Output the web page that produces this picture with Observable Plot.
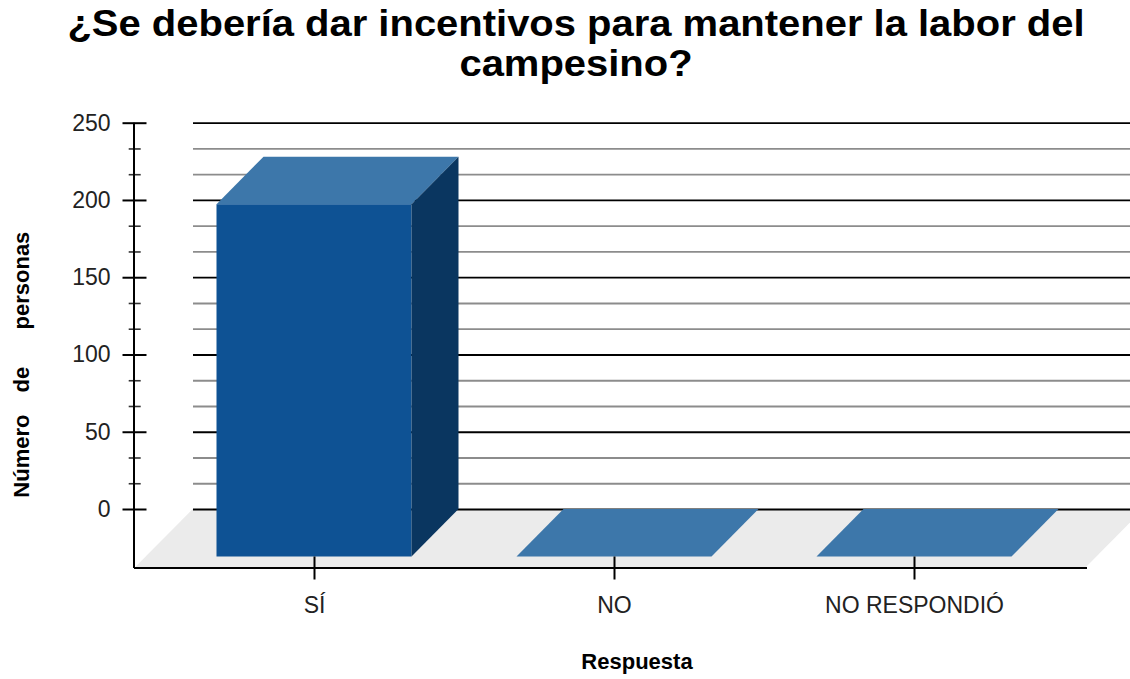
<!DOCTYPE html>
<html><head><meta charset="utf-8">
<script src="https://cdn.jsdelivr.net/npm/d3@7"></script>
<script src="https://cdn.jsdelivr.net/npm/@observablehq/plot@0.6"></script>
<style>
html,body{margin:0;padding:0;background:#fff;overflow:hidden;width:1130px;height:679px;}
#title{font-family:"Liberation Sans",Arial,sans-serif;font-weight:bold;font-size:36px;line-height:40px;text-align:center;height:95px;box-sizing:border-box;padding-top:3.5px;position:relative;left:11px;width:1130px;color:#000;white-space:nowrap;transform:scaleX(1.11);transform-origin:50% 50%;}
#chart svg{overflow:hidden;}
</style></head><body>
<div id="title">¿Se debería dar incentivos para mantener la labor del<br>campesino?</div>
<div id="chart"></div>
<script>
// ---- data ----
const categories = ["SÍ", "NO", "NO RESPONDIÓ"];
const counts = [228, 0, 0];
const majorTicks = [0, 50, 100, 150, 200, 250];
const minorTicks = [16.67, 33.33, 66.67, 83.33, 116.67, 133.33, 166.67, 183.33, 216.67, 233.33];
const xTitle = "Respuesta";
const yTitle = "Número\u2003de\u2003\u2002\u2009personas";

// ---- styles ----
const colors = {front: "#0e5294", top: "#3d77aa", side: "#0a3660", floor: "#ebebeb"};
const W = 1130, H = 584, ML = 163.5, MR = 66.5, MT = 27.7, MB = 170;
const DX = 47, DY = 47.5;       // bar depth
const FDX = 58.5, FDY = 59;     // floor depth
const INSET = 52.5;

const data = categories.map((c, i) => ({cat: c, n: counts[i]}));

function poly(g, pts, fill) {
  g.append("polygon").attr("points", pts.map(p => p.join(",")).join(" ")).attr("fill", fill);
}

const floorMark = Plot.ruleY([0], {render: (index, scales) => {
  const g = d3.create("svg:g");
  const y0 = scales.y(0);
  const xl = ML - FDX / 2, xr = W - MR + 21.5;
  poly(g, [[xl, y0 + FDY], [xr, y0 + FDY], [xr + FDX, y0], [xl + FDX, y0]], colors.floor);
  return g.node();
}});

const axisLines = Plot.ruleY([0], {render: (index, scales) => {
  const g = d3.create("svg:g");
  const y0 = scales.y(0), yTop = scales.y(250);
  const xa = ML - 29.5;
  g.append("line").attr("x1", xa).attr("x2", xa).attr("y1", yTop).attr("y2", y0 + FDY).attr("stroke", "#000").attr("stroke-width", 2);
  g.append("line").attr("x1", xa).attr("x2", W - MR + 23.5).attr("y1", y0 + FDY).attr("y2", y0 + FDY).attr("stroke", "#000").attr("stroke-width", 2);
  return g.node();
}});

const sideFaces = Plot.barY(data, {x: "cat", y: "n", render: (index, scales) => {
  const g = d3.create("svg:g");
  const step = scales.x.bandwidth ? scales.x.bandwidth() : (scales.x(categories[1]) - scales.x(categories[0]));
  const bw = step - 2 * INSET;
  const y0 = scales.y(0);
  for (const i of index) {
    const d = data[i];
    const xl = scales.x(d.cat) + INSET, xr = xl + bw;
    const yt = scales.y(d.n);
    poly(g, [[xl, yt + DY], [xr, yt + DY], [xr + DX, yt], [xl + DX, yt]], colors.top);
    if (d.n > 0) poly(g, [[xr, yt + DY], [xr + DX, yt], [xr + DX, y0], [xr, y0 + DY]], colors.side);
  }
  return g.node();
}});

const chart = Plot.plot({
  width: W, height: H,
  marginLeft: ML, marginRight: MR, marginTop: MT, marginBottom: MB,
  style: {fontFamily: "'Liberation Sans', Arial, sans-serif", background: "#fff", color: "#222"},
  x: {type: "band", domain: categories, padding: 0, axis: null},
  y: {domain: [0, 250], axis: null},
  marks: [
    floorMark,
    Plot.ruleY(minorTicks, {stroke: "#8c8c8c", strokeWidth: 1.8, insetLeft: 29.5, insetRight: -90}),
    Plot.ruleY(majorTicks, {stroke: "#000", strokeWidth: 1.8, insetLeft: 29.5, insetRight: -90}),
    Plot.barY(data, {x: "cat", y: "n", dy: DY, insetLeft: INSET, insetRight: INSET, fill: colors.front}),
    sideFaces,
    Plot.axisY(minorTicks, {tickSize: 12, dx: -22.8, tickFormat: () => "", stroke: "#333", strokeWidth: 1.6, label: null}),
    Plot.axisY(majorTicks, {tickSize: 24, dx: -17, tickPadding: 12.5, fontSize: 23, fill: "#222", stroke: "#000", strokeWidth: 2, label: null}),
    Plot.axisX({tickSize: 23, dy: DY, tickPadding: 16.7, fontSize: 23, fill: "#222", stroke: "#000", strokeWidth: 2, label: null}),
    axisLines,
    Plot.text([xTitle], {frameAnchor: "bottom", dx: 23, dy: 152, lineAnchor: "middle", fontWeight: "bold", fontSize: 22, fill: "#000"}),
    Plot.text([yTitle], {frameAnchor: "left", textAnchor: "middle", rotate: -90, dx: -142, dy: 48.3, lineAnchor: "middle", fontWeight: "bold", fontSize: 22, fill: "#000"})
  ]
});
document.getElementById("chart").appendChild(chart);
</script>
</body></html>
